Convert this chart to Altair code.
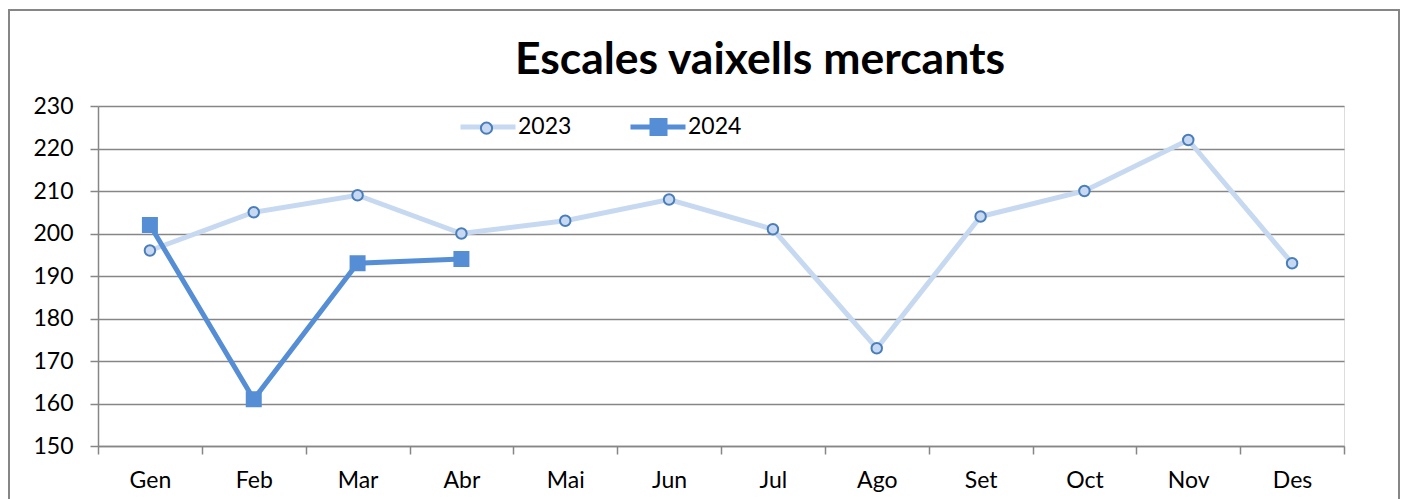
import altair as alt
import pandas as pd

months = ["Gen", "Feb", "Mar", "Abr", "Mai", "Jun", "Jul", "Ago", "Set", "Oct", "Nov", "Des"]
vals_2023 = [196, 205, 209, 200, 203, 208, 201, 173, 204, 210, 222, 193]
vals_2024 = [202, 161, 193, 194]
series = ["2023", "2024"]
marker_keys = ["m2023", "m2024"]
y_ticks = [150, 160, 170, 180, 190, 200, 210, 220, 230]
title_text = "Escales vaixells mercants"

rows = []
for m, v in zip(months, vals_2023):
    rows.append({"mes": m, "valor": v, "any": "2023"})
for m, v in zip(months, vals_2024):
    rows.append({"mes": m, "valor": v, "any": "2024"})
df = pd.DataFrame(rows)

FONT = "Lato"
LINE_COLORS = ["#C6D9F1", "#558ED5"]
FILL_COLORS = ["#C6D9F1", "#558ED5"]
EDGE_COLORS = ["#4A7EBB", "#558ED5"]
GRAY = "#868686"
LABEL_SIZE = 23

x_enc = alt.X(
    "mes:N",
    sort=months,
    scale=alt.Scale(type="band", paddingInner=0, paddingOuter=0),
    axis=alt.Axis(
        title=None,
        labelAngle=0,
        labelFont=FONT,
        labelFontSize=LABEL_SIZE,
        labelColor="#000000",
        labelPadding=15,
        tickBand="extent",
        tickSize=8,
        tickColor=GRAY,
        tickWidth=1.5,
        domainColor=GRAY,
        domainWidth=1.5,
        grid=False,
    ),
)
y_enc = alt.Y(
    "valor:Q",
    scale=alt.Scale(domain=[150, 230], nice=False, zero=False),
    axis=alt.Axis(
        title=None,
        values=y_ticks,
        labelFont=FONT,
        labelFontSize=LABEL_SIZE,
        labelColor="#000000",
        labelPadding=17,
        tickSize=8,
        tickColor=GRAY,
        tickWidth=1.5,
        domainColor=GRAY,
        domainWidth=1.5,
        grid=True,
        gridColor=GRAY,
        gridWidth=1.5,
    ),
)

LEG_X = 360
LEG_Y = 9

lines = alt.Chart(df).mark_line(strokeWidth=5).encode(
    x=x_enc,
    y=y_enc,
    color=alt.Color(
        "any:N",
        scale=alt.Scale(domain=series, range=LINE_COLORS),
        legend=alt.Legend(
            title=None,
            orient="none",
            direction="horizontal",
            legendX=LEG_X,
            legendY=LEG_Y - 18,
            labelFont=FONT,
            labelFontSize=LABEL_SIZE,
            labelColor="#000000",
            symbolType="stroke",
            symbolSize=3025,
            symbolStrokeWidth=5,
            labelOffset=0,
            columnPadding=48,
        ),
    ),
    detail="any:N",
)

pts23 = alt.Chart(df).transform_filter(alt.datum.any == "2023").mark_point(
    shape="circle", size=110, filled=True, fill="#C6D9F1", stroke="#4A7EBB", strokeWidth=2, opacity=1
).encode(x=x_enc, y=y_enc)

pts24 = alt.Chart(df).transform_filter(alt.datum.any == "2024").mark_point(
    shape="square", size=256, filled=True, fill="#558ED5", strokeWidth=0, opacity=1
).encode(x=x_enc, y=y_enc)

circle_path = "M0,-0.7A0.7,0.7 0 1,1 0,0.7A0.7,0.7 0 1,1 0,-0.7Z"
square_path = "M-1,-1H1V1H-1Z"

marker_legend = alt.Legend(
    title=None,
    orient="none",
    direction="horizontal",
    legendX=LEG_X + 19.5,
    legendY=LEG_Y + 3,
    labelExpr="''",
    symbolSize=256,
    symbolStrokeWidth=2,
    labelOffset=0,
    columnPadding=150,
    symbolOpacity=1,
)

legend_layer = alt.Chart(pd.DataFrame({"serie": marker_keys})).mark_point(
    size=0, opacity=0, filled=True
).encode(
    shape=alt.Shape("serie:N", scale=alt.Scale(domain=marker_keys, range=[circle_path, square_path]), legend=marker_legend),
    fill=alt.Fill("serie:N", scale=alt.Scale(domain=marker_keys, range=FILL_COLORS), legend=marker_legend),
    stroke=alt.Stroke("serie:N", scale=alt.Scale(domain=marker_keys, range=EDGE_COLORS), legend=marker_legend),
)

border = alt.Chart(pd.DataFrame({"a": [0]})).mark_rect(
    fill="transparent", stroke=GRAY, strokeWidth=2
).encode(x=alt.value(-89), x2=alt.value(1301), y=alt.value(-96), y2=alt.value(520))

chart = alt.layer(border, lines, pts23, pts24, legend_layer).properties(
    width=1246,
    height=340,
    autosize=alt.AutoSizeParams(type="none"),
    padding={"left": 90, "top": 98, "right": 57, "bottom": 53},
    title=alt.TitleParams(
        text=title_text,
        font=FONT,
        fontSize=44.5,
        fontWeight="bold",
        color="#000000",
        anchor="middle",
        dx=39,
        offset=-74,
    ),
).configure_view(stroke=None).configure(background="white")

chart.save("out.html", embed_options={"renderer": "svg", "actions": False})
